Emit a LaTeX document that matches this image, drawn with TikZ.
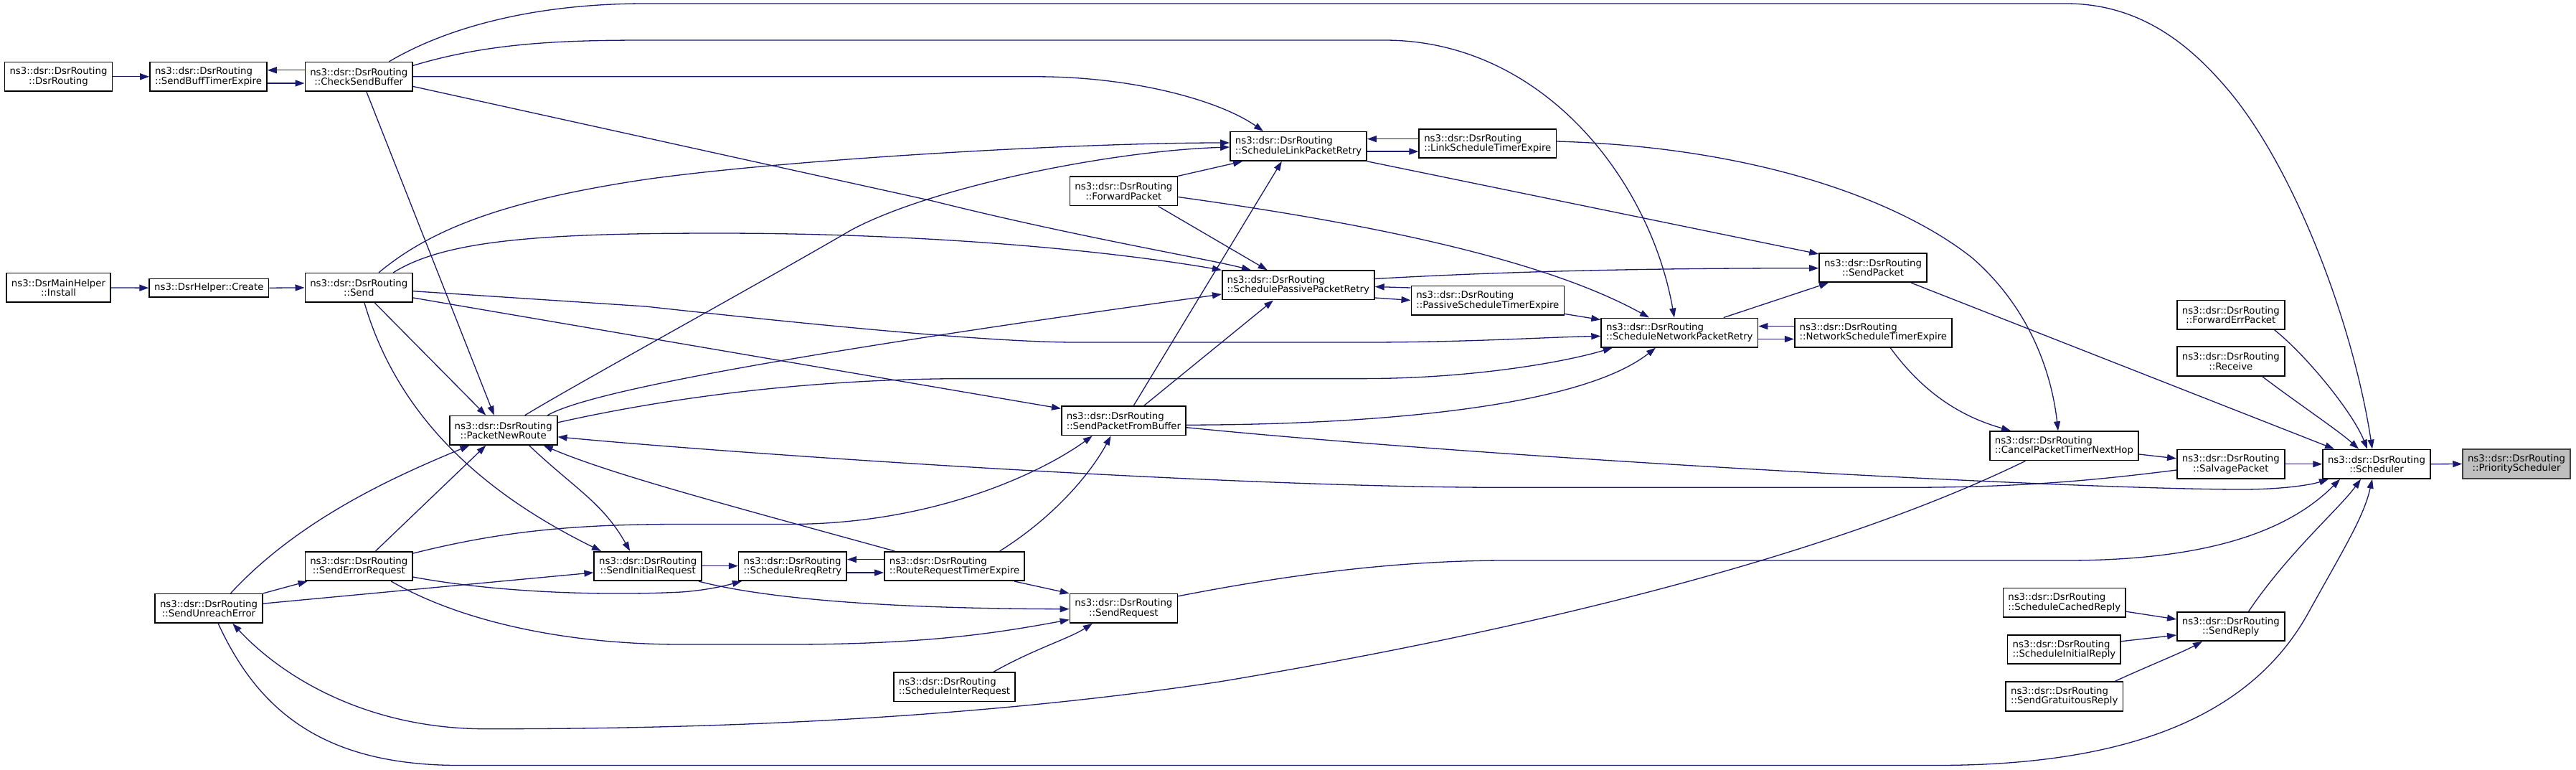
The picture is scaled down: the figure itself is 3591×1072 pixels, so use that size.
\documentclass[tikz,border=0pt]{standalone}
\usepackage{fontspec}
\setmainfont{DejaVu Sans}
\usetikzlibrary{arrows.meta}
\definecolor{edgeblue}{HTML}{191970}
\definecolor{rootfill}{HTML}{BFBFBF}
\definecolor{rootdraw}{HTML}{404040}
\newlength\labwa
\newlength\labwb
\newcommand\dlab[2]{\settowidth\labwa{#1}\settowidth\labwb{#2}\ifdim\labwb>\labwa\makebox[\labwb][l]{#1}\else#1\fi\\#2}
\tikzset{
  box/.style={draw=black, line width=1.6pt, fill=white, inner xsep=7pt, inner ysep=1pt, minimum height=40.5pt, align=center, font=\fontsize{13.3}{13.3}\selectfont},
  rootbox/.style={box, fill=rootfill, draw=rootdraw},
  onebox/.style={box, minimum height=25.5pt},
  conn/.style={draw=edgeblue, line width=1.3pt, -{Triangle[length=13pt,width=9pt]}},
}
\begin{document}
\begin{tikzpicture}[x=1pt,y=-1pt]
\fill[white] (0,0) rectangle (3591,1072);
\useasboundingbox (0,0) rectangle (3591,1072);
% nodes
\node[box] (dsrr) at (81.5,106.8) {\dlab{ns3::dsr::DsrRouting}{::DsrRouting}};
\node[box] (sbte) at (290.5,106.8) {\dlab{ns3::dsr::DsrRouting}{::SendBuffTimerExpire}};
\node[box] (csb) at (500.3,106.8) {\dlab{ns3::dsr::DsrRouting}{::CheckSendBuffer}};
\node[box] (inst) at (81.5,400.9) {\dlab{ns3::DsrMainHelper}{::Install}};
\node[onebox] (crea) at (291.3,401.2) {ns3::DsrHelper::Create};
\node[box] (send) at (500.3,400.9) {\dlab{ns3::dsr::DsrRouting}{::Send}};
\node[box] (pnr) at (701.7,599.7) {\dlab{ns3::dsr::DsrRouting}{::PacketNewRoute}};
\node[box] (ser) at (500.3,789) {\dlab{ns3::dsr::DsrRouting}{::SendErrorRequest}};
\node[box] (sue) at (291,847.9) {\dlab{ns3::dsr::DsrRouting}{::SendUnreachError}};
\node[box] (sir) at (903.2,789) {\dlab{ns3::dsr::DsrRouting}{::SendInitialRequest}};
\node[box] (srr) at (1104.9,789) {\dlab{ns3::dsr::DsrRouting}{::ScheduleRreqRetry}};
\node[box] (rrte) at (1330.5,789) {\dlab{ns3::dsr::DsrRouting}{::RouteRequestTimerExpire}};
\node[box] (spfb) at (1566.4,586.4) {\dlab{ns3::dsr::DsrRouting}{::SendPacketFromBuffer}};
\node[box] (sreq) at (1566.4,847.9) {\dlab{ns3::dsr::DsrRouting}{::SendRequest}};
\node[box] (sinq) at (1330.5,957.3) {\dlab{ns3::dsr::DsrRouting}{::ScheduleInterRequest}};
\node[box] (fp) at (1566.4,266.4) {\dlab{ns3::dsr::DsrRouting}{::ForwardPacket}};
\node[box] (slpr) at (1810,203.8) {\dlab{ns3::dsr::DsrRouting}{::ScheduleLinkPacketRetry}};
\node[box] (sppr) at (1809.8,397.4) {\dlab{ns3::dsr::DsrRouting}{::SchedulePassivePacketRetry}};
\node[box] (lste) at (2073.8,200) {\dlab{ns3::dsr::DsrRouting}{::LinkScheduleTimerExpire}};
\node[box] (pste) at (2073.8,418.8) {\dlab{ns3::dsr::DsrRouting}{::PassiveScheduleTimerExpire}};
\node[box] (spkt) at (2611,373) {\dlab{ns3::dsr::DsrRouting}{::SendPacket}};
\node[box] (snpr) at (2341.3,463.6) {\dlab{ns3::dsr::DsrRouting}{::ScheduleNetworkPacketRetry}};
\node[box] (nste) at (2611.4,463.6) {\dlab{ns3::dsr::DsrRouting}{::NetworkScheduleTimerExpire}};
\node[box] (cptnh) at (2877.4,621.3) {\dlab{ns3::dsr::DsrRouting}{::CancelPacketTimerNextHop}};
\node[box] (fep) at (3109.8,438.8) {\dlab{ns3::dsr::DsrRouting}{::ForwardErrPacket}};
\node[box] (recv) at (3109.8,503.5) {\dlab{ns3::dsr::DsrRouting}{::Receive}};
\node[box] (salv) at (3109.8,646.7) {\dlab{ns3::dsr::DsrRouting}{::SalvagePacket}};
\node[box] (sched) at (3313,646.7) {\dlab{ns3::dsr::DsrRouting}{::Scheduler}};
\node[rootbox] (prio) at (3508,646.5) {\dlab{ns3::dsr::DsrRouting}{::PriorityScheduler}};
\node[box] (scr) at (2877.7,839.8) {\dlab{ns3::dsr::DsrRouting}{::ScheduleCachedReply}};
\node[box] (srep) at (3109.8,873) {\dlab{ns3::dsr::DsrRouting}{::SendReply}};
\node[box] (sinr) at (2877.4,905) {\dlab{ns3::dsr::DsrRouting}{::ScheduleInitialReply}};
\node[box] (sgr) at (2877.7,970.5) {\dlab{ns3::dsr::DsrRouting}{::SendGratuitousReply}};
% straight short edges
\draw[conn] (sched.east) -- (prio.west);
\draw[conn] (salv.east) -- (sched.west);
\draw[conn] (dsrr.east) -- (sbte.west);
\draw[conn] (inst.east) -- (crea.west);
\draw[conn] (crea.east) -- (send.west);
\draw[conn] (csb.west |- 0,97.8) -- (sbte.east |- 0,97.8);
\draw[conn] (sbte.east |- 0,116) -- (csb.west |- 0,116);
\draw[conn] (lste.west |- 0,193.6) -- (slpr.east |- 0,193.6);
\draw[conn] (slpr.east |- 0,211.1) -- (lste.west |- 0,211.1);
\draw[conn] (pste.west |- 0,401) -- (sppr.east |- 0,399.5);
\draw[conn] (sppr.east |- 0,415) -- (pste.west |- 0,418.4);
\draw[conn] (nste.west |- 0,454.6) -- (snpr.east |- 0,454.6);
\draw[conn] (snpr.east |- 0,472.5) -- (nste.west |- 0,472.5);
\draw[conn] (rrte.west |- 0,779.6) -- (srr.east |- 0,779.6);
\draw[conn] (srr.east |- 0,798) -- (rrte.west |- 0,798);
\draw[conn] (sir.east |- 0,788.6) -- (srr.west |- 0,788.6);
\draw[conn] (cptnh.east |- 0,633) -- (salv.west |- 0,638.9);
% into Scheduler
\draw[conn] (srep.north -| 3134.6,0) .. controls (3190,770) and (3260,710) .. (sched.south -| 3291,0);
\draw[conn] (fep.south -| 3170.7,0) .. controls (3215,495) and (3280,575) .. (sched.north -| 3300,0);
\draw[conn] (recv.south -| 3153.5,0) .. controls (3200,560) and (3260,600) .. (sched.north -| 3288,0);
\draw[conn] (spkt.south -| 2664,0) -- (sched.north -| 3254,0);
\draw[conn] (csb.north -| 542.5,0) .. controls (620,40) and (740,5) .. (900,5) -- (2880,5) .. controls (2990,5) and (3060,70) .. (3110,130) .. controls (3200,240) and (3280,450) .. (sched.north -| 3307,0);
\draw[conn] (sue.south -| 304.2,0) .. controls (360,990) and (450,1066.5) .. (640,1066.5) -- (2700,1066.5) .. controls (3000,1066.5) and (3150,980) .. (3220,850) .. controls (3270,760) and (3295,720) .. (sched.south -| 3307,0);
\draw[conn] (sreq.east |- 0,830.8) .. controls (1800,800) and (1950,781) .. (2100,781) -- (2880,781) .. controls (3100,781) and (3200,730) .. (sched.south -| 3262,0);
\draw[conn] (spfb.east |- 0,595.7) .. controls (2100,640) and (2900,682) .. (3125,682) .. controls (3180,682) and (3220,676) .. (sched.south -| 3246,0);
% Salvage / CancelPacketTimerNextHop
\draw[conn] (salv.west |- 0,655) .. controls (2900,672) and (2800,679.3) .. (2650,679.3) -- (2100,679.3) .. controls (1700,679.3) and (1000,630) .. (pnr.east |- 0,608.8);
\draw[conn] (cptnh.south -| 2823.4,0) .. controls (2500,800) and (2000,900) .. (1700,950) .. controls (1300,1010) and (900,1015.7) .. (677,1015.7) .. controls (520,1015.7) and (400,950) .. (sue.south -| 324.3,0);
\draw[conn] (lste.east |- 0,197) .. controls (2450,205) and (2650,280) .. (2750,360) .. controls (2830,430) and (2860,520) .. (cptnh.north -| 2869,0);
\draw[conn] (nste.south -| 2635.2,0) .. controls (2690,560) and (2750,585) .. (cptnh.north -| 2803,0);
% SendPacket
\draw[conn] (slpr.south east) -- ([yshift=-2pt]spkt.north west);
\draw[conn] (sppr.east |- 0,388.5) .. controls (2100,378) and (2300,373.7) .. (spkt.west |- 0,373.7);
\draw[conn] (snpr.north -| 2402.7,0) -- (spkt.south -| 2549,0);
\draw[conn] (pste.east |- 0,437.4) -- ([yshift=-3pt]snpr.north west);
% CheckSendBuffer
\draw[conn] (csb.east |- 0,91.3) .. controls (680,60) and (780,56) .. (900,56) -- (1930,56) .. controls (2150,56) and (2300,250) .. (snpr.north -| 2334,0);
\draw[conn] (csb.east) -- (1445,106.8) .. controls (1580,106.8) and (1700,140) .. (slpr.north -| 1761,0);
\draw[conn] (csb.east |- 0,120.5) -- (1300,280) .. controls (1500,330) and (1680,360) .. (sppr.north -| 1744,0);
\draw[conn] (csb.south -| 510.9,0) -- (pnr.north -| 688.8,0);
% Send
\draw[conn] (send.north -| 528,0) .. controls (600,320) and (700,280) .. (900,250) .. controls (1100,222) and (1500,199) .. (slpr.west |- 0,199);
\draw[conn] (send.north -| 548.2,0) .. controls (620,335) and (750,325) .. (1000,325) .. controls (1300,325) and (1550,350) .. (sppr.north west);
\draw[conn] (send.east |- 0,405.7) -- (900,427) .. controls (1200,460) and (1400,477) .. (1500,477) -- (1900,477) .. controls (2050,477) and (2150,470) .. (snpr.west |- 0,468.4);
\draw[conn] (send.east |- 0,415) -- ([yshift=-4pt]spfb.north west);
\draw[conn] (send.south -| 522.3,0) -- (pnr.north -| 677.3,0);
\draw[conn] (send.south -| 508,0) .. controls (560,600) and (700,700) .. (sir.north -| 838,0);
% PacketNewRoute
\draw[conn] (pnr.north -| 731.8,0) .. controls (800,537) and (1050,400) .. (1187,320.3) .. controls (1300,260) and (1550,210) .. (slpr.west |- 0,205);
\draw[conn] (pnr.north -| 763.4,0) .. controls (830,540) and (1200,480) .. (sppr.west |- 0,410);
\draw[conn] (pnr.east |- 0,588.8) .. controls (950,550) and (1150,527.6) .. (1350,527.6) -- (1900,527.6) .. controls (2050,527.6) and (2180,505) .. (snpr.south -| 2247.7,0);
\draw[conn] (pnr.south -| 737.6,0) .. controls (800,680) and (840,700) .. (sir.north -| 878.2,0);
% ForwardPacket
\draw[conn] (fp.north east) -- (slpr.south -| 1732,0);
\draw[conn] (fp.east |- 0,274.5) .. controls (1900,310) and (2150,360) .. (snpr.north -| 2299,0);
\draw[conn] (fp.south -| 1614.6,0) -- (sppr.north -| 1766.7,0);
% SendPacketFromBuffer
\draw[conn] (spfb.east |- 0,592.2) .. controls (1900,592) and (2200,570) .. (snpr.south -| 2308,0);
\draw[conn] (spfb.north -| 1580.2,0) -- (slpr.south -| 1786.8,0);
\draw[conn] (spfb.north -| 1594.6,0) -- (sppr.south -| 1775,0);
% into PacketNewRoute
\draw[conn] (sue.north -| 321.4,0) .. controls (420,720) and (560,660) .. (pnr.south -| 654.4,0);
\draw[conn] (ser.north -| 523.5,0) -- (pnr.south -| 677.3,0);
\draw[conn] (rrte.north -| 1247.3,0) .. controls (1000,700) and (850,660) .. (pnr.south -| 757.7,0);
% SendUnreachError / SendErrorRequest
\draw[conn] (sue.north east) -- ([xshift=4pt]ser.south west);
\draw[conn] (sue.east |- 0,841.1) -- (sir.west |- 0,797.9);
\draw[conn] (ser.east |- 0,771) .. controls (700,740) and (800,730.5) .. (950,730.5) -- (1100,730.5) .. controls (1300,730.5) and (1450,660) .. (spfb.south -| 1522.8,0);
\draw[conn] (rrte.north -| 1393.6,0) .. controls (1470,720) and (1520,660) .. (spfb.south -| 1548.6,0);
\draw[conn] (ser.east |- 0,804.1) .. controls (700,827) and (850,830) .. (950,825) .. controls (990,822) and (1015,815) .. ([xshift=5pt]srr.south west);
\draw[conn] ([xshift=-5pt]sir.south east) .. controls (1050,830) and (1200,848) .. (sreq.west |- 0,848.7);
\draw[conn] (ser.south -| 545.3,0) .. controls (650,870) and (800,898) .. (950,898) -- (1100,898) .. controls (1300,898) and (1400,880) .. (sreq.west |- 0,863.6);
\draw[conn] (rrte.south -| 1414,0) -- (sreq.north west);
\draw[conn] (sinq.north -| 1385,0) .. controls (1440,905) and (1490,890) .. (sreq.south -| 1522.8,0);
% SendReply
\draw[conn] (scr.east |- 0,852.2) -- (srep.west |- 0,863);
\draw[conn] (sinr.east |- 0,893.7) -- (srep.west |- 0,885);
\draw[conn] (sgr.north -| 2948,0) .. controls (2990,930) and (3040,910) .. (srep.south -| 3070,0);
\end{tikzpicture}
\end{document}
